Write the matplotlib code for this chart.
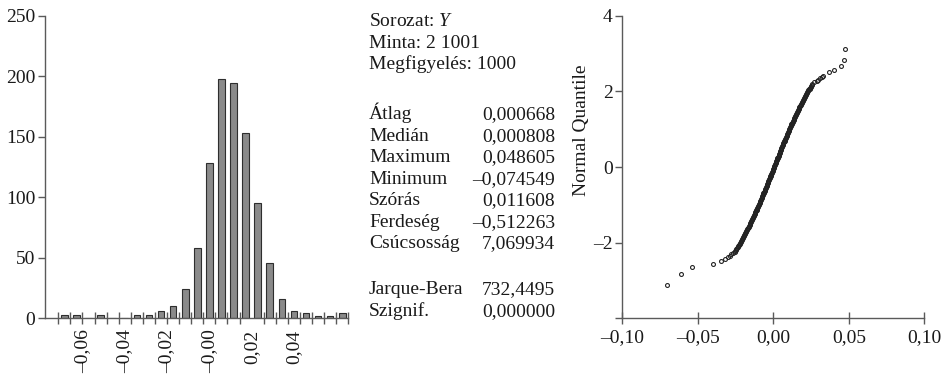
import numpy as np
import matplotlib
matplotlib.use("Agg")
import matplotlib.pyplot as plt
from matplotlib.ticker import FixedLocator, NullFormatter, FixedFormatter

plt.rcParams['font.family'] = ['Liberation Serif', 'DejaVu Serif']
plt.rcParams['mathtext.fontset'] = 'custom'
plt.rcParams['mathtext.rm'] = 'Liberation Serif'
plt.rcParams['mathtext.it'] = 'Liberation Serif:italic'

# ---- histogram data ----
hist_counts = [3, 3, 0, 3, 0, 0, 3, 3, 6, 10, 24, 58, 128, 198,
               194, 153, 95, 46, 16, 6, 4, 2, 2, 4]
hist_lo, hist_hi = -0.0714, 0.0657
hist_ticks = [-0.06, -0.04, -0.02, 0.0, 0.02, 0.04]
hist_ticklabels = ["–0,06", "–0,04", "–0,02", "–0,00", "0,02", "0,04"]
hist_yticks = [0, 50, 100, 150, 200, 250]

# ---- descriptive statistics ----
series_name = "Y"
sample_range = "2 1001"
n_obs = 1000
stat_names = ["Átlag", "Medián", "Maximum", "Minimum", "Szórás",
              "Ferdeség", "Csúcsosság"]
stat_values = [0.000668, 0.000808, 0.048605, -0.074549, 0.011608,
               -0.512263, 7.069934]
jb_value = 732.4495
jb_prob = 0.000000

# ---- normal quantile plot: sample quantiles vs. normal quantiles ----
low_tail_sample = [-0.0702, -0.0613, -0.0540, -0.0397, -0.0346, -0.0320,
                   -0.0302, -0.0287, -0.0280, -0.0270]
low_tail_normal = [-3.11, -2.82, -2.65, -2.56, -2.48, -2.43,
                   -2.39, -2.35, -2.31, -2.28]

core_sample = [
    -0.0255, -0.0252, -0.0248, -0.0244, -0.0241, -0.0237, -0.0233, -0.0230,
    -0.0226, -0.0223, -0.0219, -0.0216, -0.0212, -0.0209, -0.0205, -0.0202,
    -0.0199, -0.0195, -0.0192, -0.0189, -0.0185, -0.0182, -0.0179, -0.0176,
    -0.0172, -0.0169, -0.0166, -0.0163, -0.0160, -0.0157, -0.0154, -0.0151,
    -0.0148, -0.0145, -0.0142, -0.0139, -0.0136, -0.0133, -0.0130, -0.0127,
    -0.0124, -0.0122, -0.0119, -0.0116, -0.0113, -0.0110, -0.0108, -0.0105,
    -0.0102, -0.0099, -0.0097, -0.0094, -0.0091, -0.0088, -0.0086, -0.0083,
    -0.0081, -0.0078, -0.0075, -0.0073, -0.0070, -0.0067, -0.0065, -0.0062,
    -0.0060, -0.0057, -0.0055, -0.0052, -0.0050, -0.0047, -0.0044, -0.0042,
    -0.0039, -0.0037, -0.0034, -0.0032, -0.0030, -0.0027, -0.0025, -0.0022,
    -0.0020, -0.0017, -0.0015, -0.0012, -0.0010, -0.0007, -0.0005, -0.0002,
    0.0000, 0.0003, 0.0005, 0.0007, 0.0010, 0.0012, 0.0015, 0.0017,
    0.0020, 0.0022, 0.0025, 0.0027, 0.0030, 0.0032, 0.0035, 0.0037,
    0.0040, 0.0042, 0.0044, 0.0047, 0.0049, 0.0052, 0.0054, 0.0057,
    0.0060, 0.0062, 0.0065, 0.0067, 0.0070, 0.0072, 0.0075, 0.0077,
    0.0080, 0.0083, 0.0085, 0.0088, 0.0091, 0.0093, 0.0096, 0.0098,
    0.0101, 0.0104, 0.0107, 0.0109, 0.0112, 0.0115, 0.0118, 0.0120,
    0.0123, 0.0126, 0.0129, 0.0132, 0.0134, 0.0137, 0.0140, 0.0143,
    0.0146, 0.0149, 0.0152, 0.0155, 0.0158, 0.0161, 0.0164, 0.0167,
    0.0170, 0.0173, 0.0176, 0.0179, 0.0182, 0.0186, 0.0189, 0.0192,
    0.0195, 0.0199, 0.0202, 0.0205, 0.0209, 0.0212, 0.0215, 0.0219,
    0.0222, 0.0226, 0.0229, 0.0233, 0.0236, 0.0240, 0.0243, 0.0247,
    0.0251, 0.0254, 0.0258,
]
core_normal = [
    -2.250, -2.225, -2.200, -2.175, -2.150, -2.125, -2.100, -2.075,
    -2.050, -2.025, -2.000, -1.975, -1.950, -1.925, -1.900, -1.875,
    -1.850, -1.825, -1.800, -1.775, -1.750, -1.725, -1.700, -1.675,
    -1.650, -1.625, -1.600, -1.575, -1.550, -1.525, -1.500, -1.475,
    -1.450, -1.425, -1.400, -1.375, -1.350, -1.325, -1.300, -1.275,
    -1.250, -1.225, -1.200, -1.175, -1.150, -1.125, -1.100, -1.075,
    -1.050, -1.025, -1.000, -0.975, -0.950, -0.925, -0.900, -0.875,
    -0.850, -0.825, -0.800, -0.775, -0.750, -0.725, -0.700, -0.675,
    -0.650, -0.625, -0.600, -0.575, -0.550, -0.525, -0.500, -0.475,
    -0.450, -0.425, -0.400, -0.375, -0.350, -0.325, -0.300, -0.275,
    -0.250, -0.225, -0.200, -0.175, -0.150, -0.125, -0.100, -0.075,
    -0.050, -0.025, 0.000, 0.025, 0.050, 0.075, 0.100, 0.125,
    0.150, 0.175, 0.200, 0.225, 0.250, 0.275, 0.300, 0.325,
    0.350, 0.375, 0.400, 0.425, 0.450, 0.475, 0.500, 0.525,
    0.550, 0.575, 0.600, 0.625, 0.650, 0.675, 0.700, 0.725,
    0.750, 0.775, 0.800, 0.825, 0.850, 0.875, 0.900, 0.925,
    0.950, 0.975, 1.000, 1.025, 1.050, 1.075, 1.100, 1.125,
    1.150, 1.175, 1.200, 1.225, 1.250, 1.275, 1.300, 1.325,
    1.350, 1.375, 1.400, 1.425, 1.450, 1.475, 1.500, 1.525,
    1.550, 1.575, 1.600, 1.625, 1.650, 1.675, 1.700, 1.725,
    1.750, 1.775, 1.800, 1.825, 1.850, 1.875, 1.900, 1.925,
    1.950, 1.975, 2.000, 2.025, 2.050, 2.075, 2.100, 2.125,
    2.150, 2.175, 2.200,
]

high_tail_sample = [0.0270, 0.0287, 0.0296, 0.0309, 0.0320, 0.0327,
                    0.0369, 0.0400, 0.0446, 0.0466, 0.0473]
high_tail_normal = [2.24, 2.27, 2.30, 2.35, 2.38, 2.41,
                    2.50, 2.57, 2.68, 2.83, 3.12]

qq_xticks = [-0.10, -0.05, 0.0, 0.05, 0.10]
qq_xticklabels = ["–0,10", "–0,05", "0,00", "0,05", "0,10"]
qq_yticks = [-4, -2, 0, 2, 4]
qq_yticklabels = ["", "–2", "0", "2", "4"]


def hu_num(v, decimals=6):
    return f"{v:.{decimals}f}".replace(".", ",").replace("-", "–")


W, H = 949, 375
FS = 14
AXIS_COLOR = "#5a5a5a"
TEXT_COLOR = "#1a1a1a"

fig = plt.figure(figsize=(W / 100, H / 100), dpi=100)


def px_rect(x0, y0, x1, y1):
    return [x0 / W, 1 - y1 / H, (x1 - x0) / W, (y1 - y0) / H]


def style_axes(ax):
    for side in ("top", "right"):
        ax.spines[side].set_visible(False)
    for side in ("left", "bottom"):
        ax.spines[side].set_color(AXIS_COLOR)
        ax.spines[side].set_linewidth(1.0)
    ax.tick_params(colors=AXIS_COLOR, labelcolor=TEXT_COLOR,
                   labelsize=FS, width=1.0)


# ---- histogram ----
ax1 = fig.add_axes(px_rect(45, 15.7, 348.3, 318.3))
style_axes(ax1)
edges = np.linspace(hist_lo, hist_hi, len(hist_counts) + 1)
centers = (edges[:-1] + edges[1:]) / 2
bw = edges[1] - edges[0]
ax1.bar(centers, hist_counts, width=bw * 0.55, color="#8a8a8a",
        edgecolor="#2e2e2e", linewidth=0.8, zorder=3)
ax1.set_xlim(-0.0777, hist_hi)
ax1.set_ylim(0, 250)
ax1.xaxis.set_major_locator(FixedLocator(hist_ticks))
ax1.xaxis.set_major_formatter(FixedFormatter(hist_ticklabels))
ax1.xaxis.set_minor_locator(FixedLocator(list(edges)))
ax1.xaxis.set_minor_formatter(NullFormatter())
ax1.tick_params(axis="x", which="major", length=0, pad=8, rotation=90)
ax1.tick_params(axis="x", which="minor", direction="inout", length=8,
                width=1.0, color=AXIS_COLOR)
ax1.yaxis.set_major_locator(FixedLocator(hist_yticks))
ax1.tick_params(axis="y", direction="out", length=5, pad=2)
ax1.spines["bottom"].set_zorder(4)

# ---- statistics text ----
def ftxt(x, y, s, **kw):
    fig.text(x / W, 1 - y / H, s, fontsize=FS, color=TEXT_COLOR,
             va="baseline", **kw)

lx, rx = 369, 555
ftxt(lx, 26, r"Sorozat: $\mathit{" + series_name + "}$")
ftxt(lx, 47.7, f"Minta: {sample_range}")
ftxt(lx, 69.4, f"Megfigyelés: {n_obs}")
for i, (name, val) in enumerate(zip(stat_names, stat_values)):
    y = 119.3 + i * 21.5
    ftxt(lx, y, name)
    ftxt(rx, y, hu_num(val), ha="right")
ftxt(lx, 294, "Jarque-Bera")
ftxt(rx, 294, hu_num(jb_value, 4), ha="right")
ftxt(lx, 315.6, "Szignif.")
ftxt(rx, 315.6, hu_num(jb_prob), ha="right")

# ---- normal quantile plot ----
ax2 = fig.add_axes(px_rect(622.3, 15.7, 924.3, 318.3))
style_axes(ax2)
qq_x = low_tail_sample + core_sample + high_tail_sample
qq_y = low_tail_normal + core_normal + high_tail_normal
ax2.plot(qq_x, qq_y, linestyle="none", marker="o",
         markersize=2.8, markerfacecolor="none", markeredgecolor="#222222",
         markeredgewidth=0.8, clip_on=False)
ax2.set_xlim(-0.10, 0.10)
ax2.set_ylim(-4, 4)
ax2.xaxis.set_major_locator(FixedLocator(qq_xticks))
ax2.xaxis.set_major_formatter(FixedFormatter(qq_xticklabels))
ax2.yaxis.set_major_locator(FixedLocator(qq_yticks))
ax2.yaxis.set_major_formatter(FixedFormatter(qq_yticklabels))
ax2.tick_params(axis="x", direction="inout", length=8, pad=4)
ax2.tick_params(axis="y", direction="out", length=5, pad=2)
ax2.set_ylabel("Normal Quantile", fontsize=FS, color=TEXT_COLOR)
ax2.yaxis.set_label_coords(-0.107, 0.622)

fig.savefig("out.png", dpi=100)
